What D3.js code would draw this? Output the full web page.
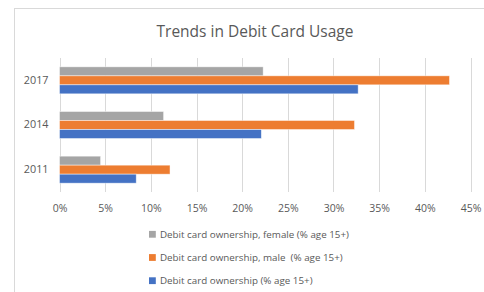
<!DOCTYPE html>
<html>
<head>
<meta charset="utf-8">
<script src="https://cdn.jsdelivr.net/npm/d3@7"></script>
<style>
  html, body { margin: 0; padding: 0; background: #fff; }
  svg { display: block; }
  text { font-family: "Open Sans", sans-serif; fill: #595959; }
</style>
</head>
<body>
<svg id="chart" width="484" height="292"></svg>
<script>
const categories = ["2017", "2014", "2011"];
const seriesNames = [
  "Debit card ownership, female (% age 15+)",
  "Debit card ownership, male  (% age 15+)",
  "Debit card ownership (% age 15+)"
];
const seriesColors = ["#A5A5A5", "#ED7D31", "#4472C4"];
const femaleValues = [22.3, 11.4, 4.5];
const maleValues = [42.7, 32.3, 12.1];
const totalValues = [32.7, 22.1, 8.4];
const xTicks = [0, 5, 10, 15, 20, 25, 30, 35, 40, 45];
const chartTitle = "Trends in Debit Card Usage";

const seriesValues = [femaleValues, maleValues, totalValues];

const svg = d3.select("#chart");
const W = 484, H = 292;

// outer chart border
svg.append("rect")
  .attr("x", 14.5).attr("y", 8.5)
  .attr("width", 520).attr("height", 320)
  .attr("fill", "none").attr("stroke", "#D9D9D9").attr("stroke-width", 1);

// title
svg.append("text")
  .attr("x", 255).attr("y", 36.5)
  .attr("text-anchor", "middle")
  .style("font-size", "15.5px")
  .text(chartTitle);

const x = d3.scaleLinear().domain([0, 45]).range([59.5, 470.5]);
const y0 = d3.scaleBand().domain(categories).range([58, 192])
  .paddingInner(0.3955).paddingOuter(0.3955 / 2);
const y1 = d3.scaleBand().domain(d3.range(seriesNames.length)).range([0, y0.bandwidth()]);

// gridlines
svg.append("g").selectAll("line").data(xTicks).join("line")
  .attr("x1", d => Math.round(x(d)) + 0.5).attr("x2", d => Math.round(x(d)) + 0.5)
  .attr("y1", 58).attr("y2", 192)
  .attr("stroke", "#D9D9D9").attr("stroke-width", 1);

// bars
const groups = svg.append("g").selectAll("g").data(categories).join("g")
  .attr("transform", d => `translate(0,${y0(d)})`);

groups.selectAll("rect")
  .data((c, ci) => seriesValues.map((vals, si) => ({ si, v: vals[ci] })))
  .join("rect")
  .attr("x", x(0))
  .attr("y", d => y1(d.si))
  .attr("width", d => x(d.v) - x(0))
  .attr("height", y1.bandwidth())
  .attr("fill", d => seriesColors[d.si])
  .attr("stroke", "#ffffff").attr("stroke-opacity", 0.6).attr("stroke-width", 0.75);

// x axis labels
const xAxis = d3.axisBottom(x).tickValues(xTicks).tickFormat(d => d + "%").tickSize(0).tickPadding(0);
const gx = svg.append("g").attr("transform", "translate(0,205)").call(xAxis);
gx.select(".domain").remove();
gx.selectAll("text").style("font-size", "10.5px").attr("fill", "#595959")
  .style("font-family", "'Open Sans', sans-serif").attr("dy", "0.71em");

// y axis labels
const yAxis = d3.axisLeft(y0).tickSize(0).tickPadding(0);
const gy = svg.append("g").attr("transform", "translate(48.5,0)").call(yAxis);
gy.select(".domain").remove();
gy.selectAll("text").style("font-size", "10.8px").attr("fill", "#595959")
  .style("font-family", "'Open Sans', sans-serif");

// legend
const legend = svg.append("g").selectAll("g").data(seriesNames).join("g")
  .attr("transform", (d, i) => `translate(149,${234.3 + i * 23.2})`);
legend.append("rect")
  .attr("x", 0).attr("y", -3.4).attr("width", 6.8).attr("height", 6.8)
  .attr("fill", (d, i) => seriesColors[i]);
legend.append("text")
  .attr("x", 11).attr("y", 0).attr("dy", "0.35em")
  .style("font-size", "9.8px")
  .style("white-space", "pre")
  .attr("xml:space", "preserve")
  .text(d => d);
</script>
</body>
</html>
